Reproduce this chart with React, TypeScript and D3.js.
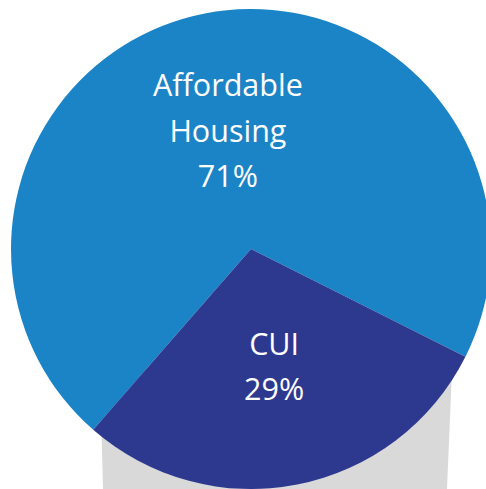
import React from 'react'
import * as d3 from 'd3'

const categories = ['Affordable Housing', 'CUI']
const values = [71, 29]
const labelLines = [['Affordable', 'Housing', '71%'], ['CUI', '29%']]
const colors = ['#1b84c6', '#2d388f']

const width = 486
const height = 489
const cx = 251
const cy = 249
const radius = 240
const startDeg = -138.9
const labelRadius = 120

export default function App() {
  const pie = d3
    .pie<number>()
    .sort(null)
    .startAngle((startDeg * Math.PI) / 180)
    .endAngle(((startDeg + 360) * Math.PI) / 180)
  const arcs = pie(values)
  const arc = d3.arc<d3.PieArcDatum<number>>().innerRadius(0).outerRadius(radius)
  const labelArc = d3.arc<d3.PieArcDatum<number>>().innerRadius(labelRadius).outerRadius(labelRadius)

  const lineHeight = 45.5

  return (
    <svg
      width={width}
      height={height}
      style={{ position: 'absolute', top: 0, left: 0, background: '#fff' }}
    >
      {/* grey base behind the pie */}
      <polygon points="100,370 452,370 447,489 103,489" fill="#d9d9d9" />
      <g transform={`translate(${cx},${cy})`}>
        {arcs.map((a, i) => (
          <path key={categories[i]} d={arc(a) || ''} fill={colors[i]} />
        ))}
        {arcs.map((a, i) => {
          const [x, y] = labelArc.centroid(a)
          const lines = labelLines[i]
          const top = y - ((lines.length - 1) * lineHeight) / 2
          return (
            <text
              key={categories[i] + '-label'}
              textAnchor="middle"
              fill="#fff"
              fontFamily="'Open Sans', sans-serif"
              fontSize={30.5}
            >
              {lines.map((l, j) => (
                <tspan key={l} x={x} y={top + j * lineHeight + 10.5}>
                  {l}
                </tspan>
              ))}
            </text>
          )
        })}
      </g>
    </svg>
  )
}
